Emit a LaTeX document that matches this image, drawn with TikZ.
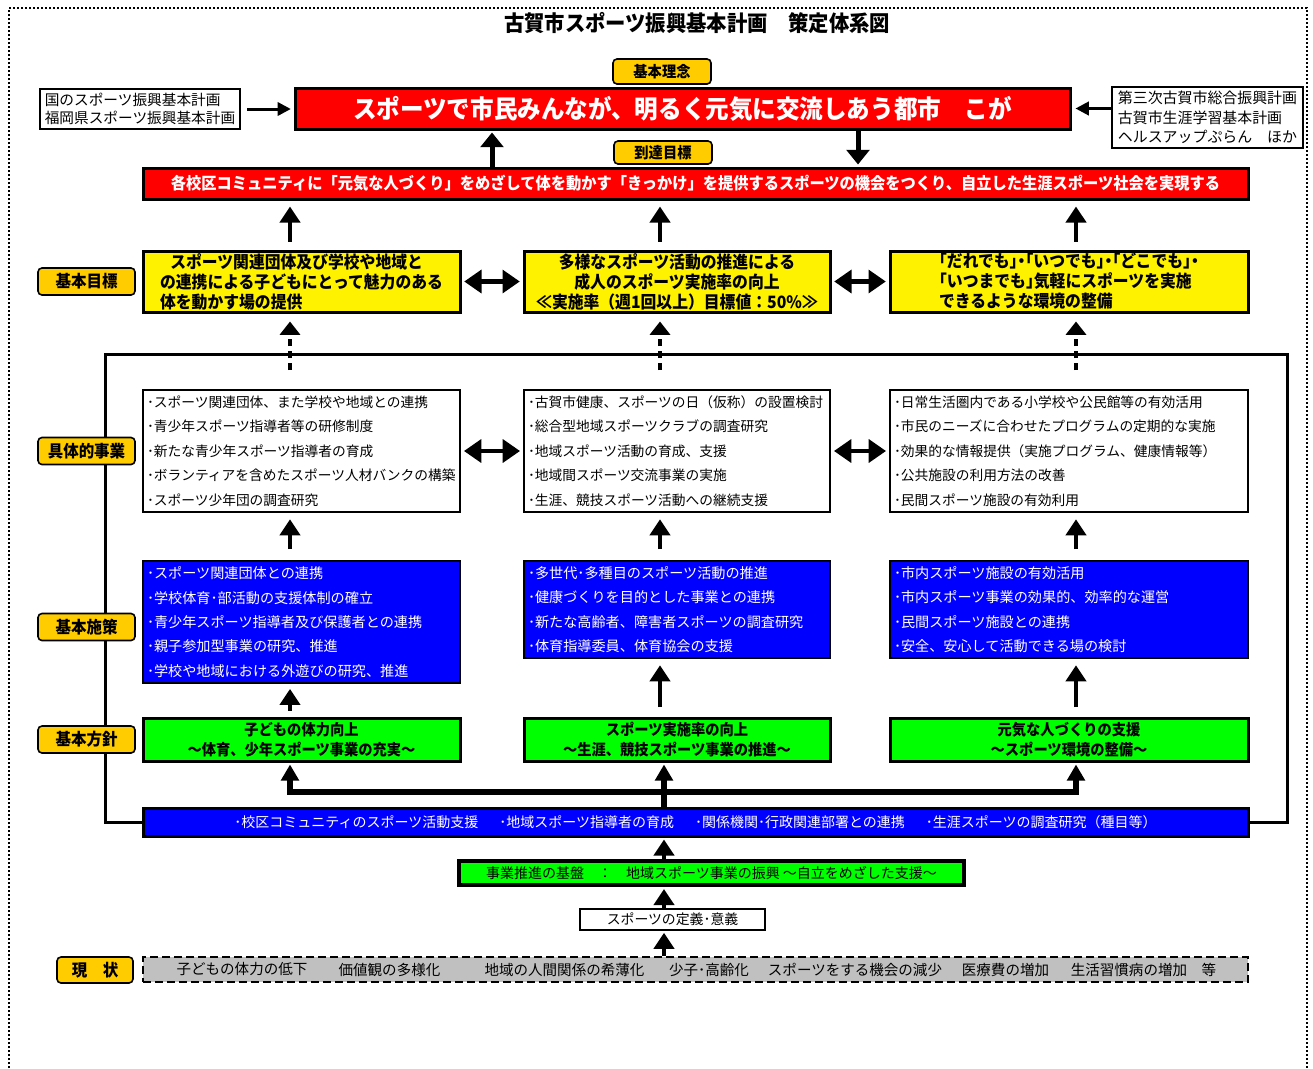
\documentclass[tikz,border=0pt]{standalone}
\usepackage{fontspec}
\setmainfont{Noto Sans CJK JP}
\newfontfamily\jpbold{Noto Sans CJK JP}[FakeStretch=0.93]
\usetikzlibrary{arrows.meta,backgrounds}

\definecolor{tagorange}{HTML}{FFCC00}
\definecolor{nowgray}{HTML}{C0C0C0}

\tikzset{
  tag/.style={draw, line width=1.2pt, rounded corners=3pt, fill=tagorange,
    minimum width=72.75pt, minimum height=20.25pt, inner sep=0pt,
    font=\jpbold\bfseries\fontsize{12.5}{14}\selectfont},
  refbox/.style={draw, line width=1pt, fill=white, align=left, inner sep=2pt,
    font=\fontsize{11}{13.5}\selectfont},
  redbox/.style={draw, line width=2.25pt, fill=red, text=white, inner sep=0pt},
  yelbox/.style={draw, line width=2.25pt, fill=yellow, inner sep=0pt,
    minimum height=45.75pt, font=\jpbold\bfseries\fontsize{12.75}{15}\selectfont},
  whbox/.style={draw, line width=1.9pt, fill=white, align=left, inner xsep=3pt,
    minimum height=91.5pt, font=\fontsize{10.3}{18.3}\selectfont},
  bluebox/.style={whbox, fill=blue, text=white, font=\fontsize{10.6}{18.3}\selectfont},
  grbox/.style={draw, line width=2.25pt, fill=green, align=center, inner sep=0pt,
    minimum height=32.25pt, font=\jpbold\bfseries\fontsize{11.5}{15}\selectfont},
  nowtext/.style={font=\fontsize{10.9}{12}\selectfont, inner sep=0pt},
  bigar/.style={line width=3.75pt, -{Triangle[length=11pt,width=17pt]},
    shorten >=1.5pt},
  upar/.style={line width=3.6pt, -{Triangle[length=12pt,width=15pt]}},
  dblar/.style={line width=3.6pt,
    {Triangle[length=13pt,width=17pt]}-{Triangle[length=13pt,width=17pt]},
    shorten <=2pt, shorten >=2pt},
  sidear/.style={line width=2.25pt, -{Triangle[length=10pt,width=10pt]}},
  dashar/.style={line width=3.6pt, -{Triangle[length=10pt,width=15pt]},
    dash pattern=on 5pt off 4pt, shorten >=6pt},
  fatar/.style={line width=4.5pt, -{Triangle[length=12pt,width=13pt]},
    shorten >=1.5pt},
  frame/.style={line width=2.25pt},
}

\begin{document}
\begin{tikzpicture}[x=0.75pt, y=-0.75pt]
\useasboundingbox (0,0) rectangle (1313,1068);

% guide coordinates
\coordinate (cL) at (290,0);
\coordinate (cM) at (660,0);
\coordinate (cR) at (1076,0);
\coordinate (upA) at (492,0);
\coordinate (dnA) at (858,0);
\coordinate (spine) at (664,0);
\coordinate (fTL) at (105,354);
\coordinate (fBR) at (1287,822);
\coordinate (dashfoot) at (0,370);
\coordinate (hz) at (0,792);

\node[font=\jpbold\bfseries\fontsize{16.4}{18}\selectfont] (title) at (697,23)
  {古賀市スポーツ振興基本計画　策定体系図};

% basic idea
\node[tag, minimum width=73.5pt, minimum height=18.75pt,
  font=\jpbold\bfseries\fontsize{11.5}{13}\selectfont] (tagIdea) at (662,71.5) {基本理念};
\node[refbox, minimum width=150pt, minimum height=30pt] (natPlan) at (140,109)
  {国のスポーツ振興基本計画\\福岡県スポーツ振興基本計画};
\node[refbox, minimum width=143.25pt, minimum height=45.75pt,
  font=\fontsize{11.2}{14.6}\selectfont] (cityPlan) at (1207.5,117.5)
  {第三次古賀市総合振興計画\\古賀市生涯学習基本計画\\ヘルスアップぷらん　ほか};
\node[redbox, minimum width=581.25pt, minimum height=30.75pt,
  font=\jpbold\bfseries\fontsize{19}{20}\selectfont] (idea) at (682.5,108.5)
  {スポーツで市民みんなが、明るく元気に交流しあう都市　こが\hspace{13.5pt}};

% final goal
\node[tag, minimum width=73.5pt, minimum height=17.25pt,
  font=\jpbold\bfseries\fontsize{11.5}{13}\selectfont] (tagGoal) at (663,152.5) {到達目標};
\node[redbox, minimum width=828.75pt, minimum height=23.25pt,
  font=\jpbold\bfseries\fontsize{12.3}{14}\selectfont] (goal) at (695.5,183.5)
  {各校区コミュニティに「元気な人づくり」をめざして体を動かす「きっかけ」を提供するスポーツの機会をつくり、自立した生涯スポーツ社会を実現する};

\draw[sidear, shorten <=5pt, shorten >=2pt] (natPlan.east) -- (natPlan.east -| idea.west);
\draw[sidear, shorten >=3pt] (cityPlan.west |- idea.east) -- (idea.east);
\draw[bigar] (goal.north -| upA) -- (idea.south -| upA);
\draw[bigar] (idea.south -| dnA) -- (goal.north -| dnA);

% basic aims
\node[tag] (tagAim) at (86.5,281.5) {基本目標};
\node[yelbox, minimum width=237.75pt, align=left] (aimL) at (301.5,281.5)
  {\hspace*{0.6em}スポーツ関連団体及び学校や地域と\\の連携による子どもにとって魅力のある\\体を動かす場の提供};
\node[yelbox, minimum width=229.5pt, align=center] (aimM) at (677,281.5)
  {多様なスポーツ活動の推進による\\成人のスポーツ実施率の向上\\≪実施率（週1回以上）目標値：50\%≫};
\node[yelbox, minimum width=268.5pt, align=left] (aimR) at (1069,281.5)
  {\addfontfeature{CharacterWidth=AlternateHalf}「だれでも」・「いつでも」・「どこでも」・\\\addfontfeature{CharacterWidth=AlternateHalf}「いつまでも」気軽にスポーツを実施\\できるような環境の整備};

\draw[dblar] (aimL) -- (aimM);
\draw[dblar] (aimM) -- (aimR);
\draw[upar, shorten <=6pt, shorten >=4.5pt] (aimL.north -| cL) -- (goal.south -| cL);
\draw[upar, shorten <=6pt, shorten >=4.5pt] (aimM.north -| cM) -- (goal.south -| cM);
\draw[upar, shorten <=6pt, shorten >=4.5pt] (aimR.north -| cR) -- (goal.south -| cR);

% concrete works
\node[tag] (tagWork) at (86.5,451) {具体的事業};
\node[whbox, text width=231.75pt] (workL) at (301.5,451)
  {･スポーツ関連団体、また学校や地域との連携\\･青少年スポーツ指導者等の研修制度\\･新たな青少年スポーツ指導者の育成\\･ボランティアを含めたスポーツ人材バンクの構築\\･スポーツ少年団の調査研究};
\node[whbox, text width=223.5pt] (workM) at (677,451)
  {･古賀市健康、スポーツの日（仮称）の設置検討\\･総合型地域スポーツクラブの調査研究\\･地域スポーツ活動の育成、支援\\･地域間スポーツ交流事業の実施\\･生涯、競技スポーツ活動への継続支援};
\node[whbox, text width=262.5pt] (workR) at (1069,451)
  {･日常生活圏内である小学校や公民館等の有効活用\\･市民のニーズに合わせたプログラムの定期的な実施\\･効果的な情報提供（実施プログラム、健康情報等）\\･公共施設の利用方法の改善\\･民間スポーツ施設の有効利用};

\draw[dblar] (workL) -- (workM);
\draw[dblar] (workM) -- (workR);
\draw[dashar] (dashfoot -| cL) -- (aimL.south -| cL);
\draw[dashar] (dashfoot -| cM) -- (aimM.south -| cM);
\draw[dashar] (dashfoot -| cR) -- (aimR.south -| cR);

% basic measures
\node[tag] (tagMeasure) at (86.5,627) {基本施策};
\node[bluebox, text width=231.75pt] (measL) at (301.5,622)
  {･スポーツ関連団体との連携\\･学校体育･部活動の支援体制の確立\\･青少年スポーツ指導者及び保護者との連携\\･親子参加型事業の研究、推進\\･学校や地域における外遊びの研究、推進};
\node[bluebox, text width=223.5pt, minimum height=72.75pt] (measM) at (677,609.5)
  {･多世代･多種目のスポーツ活動の推進\\･健康づくりを目的とした事業との連携\\･新たな高齢者、障害者スポーツの調査研究\\･体育指導委員、体育協会の支援};
\node[bluebox, text width=262.5pt, minimum height=72.75pt] (measR) at (1069,609.5)
  {･市内スポーツ施設の有効活用\\･市内スポーツ事業の効果的、効率的な運営\\･民間スポーツ施設との連携\\･安全、安心して活動できる場の検討};

\draw[upar, shorten <=8pt, shorten >=4.5pt] (measL.north -| cL) -- (workL.south -| cL);
\draw[upar, shorten <=8pt, shorten >=4.5pt] (measM.north -| cM) -- (workM.south -| cM);
\draw[upar, shorten <=8pt, shorten >=4.5pt] (measR.north -| cR) -- (workR.south -| cR);

% basic policies
\node[tag] (tagPolicy) at (86.5,739.5) {基本方針};
\node[grbox, minimum width=237.75pt] (polL) at (301.5,739.5)
  {子どもの体力向上\\～体育、少年スポーツ事業の充実～};
\node[grbox, minimum width=229.5pt] (polM) at (677,739.5)
  {スポーツ実施率の向上\\～生涯、競技スポーツ事業の推進～};
\node[grbox, minimum width=268.5pt] (polR) at (1069,739.5)
  {元気な人づくりの支援\\～スポーツ環境の整備～};

\draw[upar, shorten <=4.5pt, shorten >=3.5pt] (polL.north -| cL) -- (measL.south -| cL);
\draw[upar, shorten <=7pt, shorten >=4.5pt] (polM.north -| cM) -- (measM.south -| cM);
\draw[upar, shorten <=7pt, shorten >=4.5pt] (polR.north -| cR) -- (measR.south -| cR);

% foundation
\node[redbox, fill=blue, minimum width=828.75pt, minimum height=21pt,
  font=\fontsize{10.5}{12}\selectfont] (bbar) at (695.5,822)
  {･校区コミュニティのスポーツ活動支援\hspace{1.5em}･地域スポーツ指導者の育成\hspace{1.5em}･関係機関･行政関連部署との連携\hspace{1.5em}･生涯スポーツの調査研究（種目等）};
\node[draw, line width=3pt, fill=green, minimum width=378.75pt, minimum height=18pt,
  inner sep=0pt, font=\fontsize{10.5}{12}\selectfont] (base) at (711.5,873)
  {事業推進の基盤　：　地域スポーツ事業の振興 ～自立をめざした支援～};
\node[draw, line width=1.2pt, minimum width=138.75pt, minimum height=15.75pt,
  inner sep=0pt, font=\fontsize{10.4}{12}\selectfont] (define) at (672.5,919.5)
  {スポーツの定義･意義};

\draw[fatar, shorten <=0pt] (bbar.north -| spine) -- (polM.south -| spine);
\draw[line width=4.5pt, {Triangle[length=12pt,width=13pt]}-{Triangle[length=12pt,width=13pt]},
  shorten <=1.5pt, shorten >=1.5pt] (polL.south -| cL) |- (hz -| spine) -| (polR.south -| cR);
\draw[upar, shorten >=1.5pt] (base.north -| spine) -- (bbar.south -| spine);
\draw[upar, shorten >=1.5pt] (define.north -| spine) -- (base.south -| spine);

% present state
\node[tag, minimum width=57pt, minimum height=19.5pt] (tagNow) at (95,970) {現　状};
\node[draw, line width=1.9pt, dash pattern=on 6pt off 3pt, fill=nowgray,
  minimum width=828.75pt, minimum height=18.75pt, inner sep=0pt] (now) at (695.5,969.5) {};
\node[nowtext] (now1) at (242,969.5) {子どもの体力の低下};
\node[nowtext] (now2) at (389.5,969.5) {価値観の多様化};
\node[nowtext] (now3) at (564.5,969.5) {地域の人間関係の希薄化};
\node[nowtext] (now4) at (709,969.5) {少子･高齢化};
\node[nowtext] (now5) at (855,969.5) {スポーツをする機会の減少};
\node[nowtext] (now6) at (1005.5,969.5) {医療費の増加};
\node[nowtext] (now7) at (1143.5,969.5) {生活習慣病の増加　等};

\draw[upar, shorten >=1.5pt] (now.north -| spine) -- (define.south -| spine);

\begin{scope}[on background layer]
  \draw[frame] (bbar.west) -| (fTL) -| (fBR) -- (bbar.east);
  \draw[line width=1.5pt, dash pattern=on 1.5pt off 1.5pt] (9,1080) |- (1307,8) -- (1307,1080);
\end{scope}
\end{tikzpicture}
\end{document}
